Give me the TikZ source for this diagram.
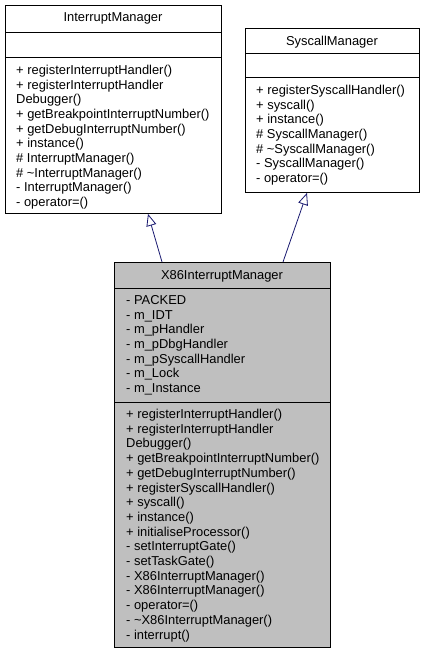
\documentclass[tikz,border=0pt]{standalone}
\usepackage{fontspec}
\setmainfont{Liberation Sans}
\usetikzlibrary{arrows.meta,calc}
\definecolor{edgeblue}{RGB}{25,25,112}
\definecolor{boxgray}{RGB}{191,191,191}
\begin{document}
\begin{tikzpicture}[x=1pt,y=-1pt,
  box/.style={draw=black,line width=0.9pt,fill=white,inner sep=0pt,anchor=north west},
  graybox/.style={box,fill=boxgray},
  txt/.style={anchor=base west,inner sep=0pt,font=\fontsize{12.9}{14}\selectfont},
  ttl/.style={anchor=base,inner sep=0pt,font=\fontsize{12.9}{14}\selectfont},
  sepline/.style={line width=0.9pt},
  inh/.style={draw=edgeblue,line width=0.8pt,-{Triangle[length=12pt,width=10pt,fill=white]}}]
\path[use as bounding box] (0,0) rectangle (424,653);

% InterruptManager
\node[box,minimum width=216pt,minimum height=208pt] (im) at (5,5) {};
\draw[sepline] ($(im.north west)+(0,27)$) -- ($(im.north east)+(0,27)$);
\draw[sepline] ($(im.north west)+(0,52)$) -- ($(im.north east)+(0,52)$);
\node[ttl] (imt) at (113,21.5) {InterruptManager};
\foreach \t [count=\i from 0] in {+ registerInterruptHandler(),+ registerInterruptHandler,Debugger(),+ getBreakpointInterruptNumber(),+ getDebugInterruptNumber(),+ instance(),\# InterruptManager(),\# \textasciitilde InterruptManager(),- InterruptManager(),- operator=()}
  \node[txt] (imm\i) at (16,74.5+\i*14.65) {\t};

% SyscallManager
\node[box,minimum width=174pt,minimum height=164pt] (sm) at (245,28) {};
\draw[sepline] ($(sm.north west)+(0,25)$) -- ($(sm.north east)+(0,25)$);
\draw[sepline] ($(sm.north west)+(0,49)$) -- ($(sm.north east)+(0,49)$);
\node[ttl] (smt) at (332,45.5) {SyscallManager};
\foreach \t [count=\i from 0] in {+ registerSyscallHandler(),+ syscall(),+ instance(),\# SyscallManager(),\# \textasciitilde SyscallManager(),- SyscallManager(),- operator=()}
  \node[txt] (smm\i) at (256,94.5+\i*14.65) {\t};

% X86InterruptManager
\node[graybox,minimum width=216pt,minimum height=385pt] (xm) at (114,262) {};
\draw[sepline] ($(xm.north west)+(0,26)$) -- ($(xm.north east)+(0,26)$);
\draw[sepline] ($(xm.north west)+(0,140)$) -- ($(xm.north east)+(0,140)$);
\node[ttl] (xmt) at (222,279.5) {X86InterruptManager};
\foreach \t [count=\i from 0] in {- PACKED,- m\_IDT,- m\_pHandler,- m\_pDbgHandler,- m\_pSyscallHandler,- m\_Lock,- m\_Instance}
  \node[txt] (xma\i) at (126,304.5+\i*14.65) {\t};
\foreach \t [count=\i from 0] in {+ registerInterruptHandler(),+ registerInterruptHandler,Debugger(),+ getBreakpointInterruptNumber(),+ getDebugInterruptNumber(),+ registerSyscallHandler(),+ syscall(),+ instance(),+ initialiseProcessor(),- setInterruptGate(),- setTaskGate(),- X86InterruptManager(),- X86InterruptManager(),- operator=(),- \textasciitilde X86InterruptManager(),- interrupt()}
  \node[txt] (xmm\i) at (126,418.5+\i*14.7) {\t};

% inheritance
\draw[inh] ($(xm.north west)+(48,0)$) -- ($(im.south west)+(143,0)$);
\draw[inh] ($(xm.north west)+(169,0)$) -- ($(sm.south west)+(62,0)$);
\end{tikzpicture}
\end{document}
